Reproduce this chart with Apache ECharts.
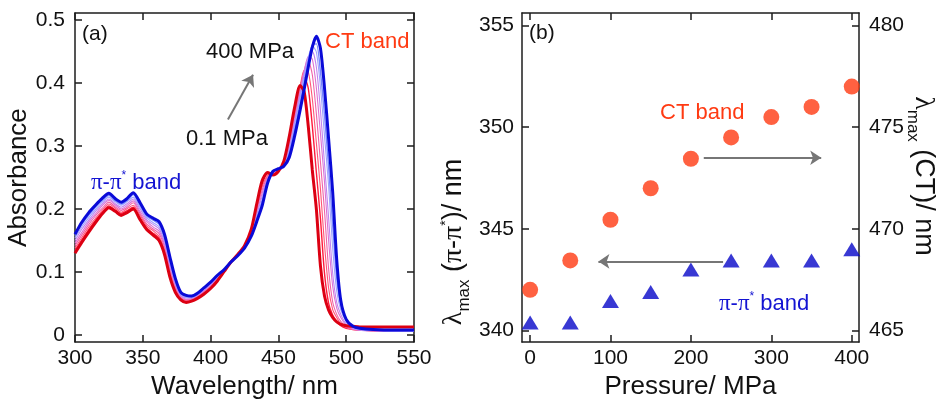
<!DOCTYPE html>
<html><head><meta charset="utf-8">
<script src="https://cdn.jsdelivr.net/npm/echarts@6/dist/echarts.min.js"></script>
<style>html,body{margin:0;padding:0;background:#fff}#c{width:936px;height:405px}</style>
</head><body><div id="c"></div>
<script>
// ---------- Panel (a): absorption spectra ----------
const wavelengths = [300,305,310,315,320,325,330,334,338,343,348,353,358,362,366,370,374,378,382,386,390,395,400,405,410,415,420,425,430,434,438,442,446,450,454,458,462,466,469,472,475,478,481,484,487,490,493,496,500,505,510,520,535,550];
const abs_0_1MPa = [0.130,0.147,0.163,0.178,0.192,0.202,0.196,0.190,0.194,0.200,0.183,0.167,0.158,0.150,0.128,0.092,0.068,0.056,0.052,0.054,0.058,0.065,0.074,0.086,0.101,0.116,0.128,0.142,0.168,0.208,0.245,0.258,0.254,0.260,0.276,0.315,0.362,0.396,0.386,0.332,0.262,0.200,0.110,0.062,0.040,0.028,0.021,0.017,0.015,0.014,0.013,0.013,0.013,0.013];
const abs_50MPa = [0.134,0.151,0.167,0.182,0.195,0.205,0.198,0.193,0.197,0.203,0.186,0.170,0.161,0.154,0.132,0.096,0.071,0.057,0.053,0.055,0.059,0.066,0.075,0.087,0.101,0.116,0.128,0.142,0.167,0.205,0.240,0.256,0.255,0.260,0.274,0.312,0.355,0.395,0.409,0.392,0.332,0.258,0.185,0.098,0.051,0.032,0.022,0.015,0.011,0.009,0.008,0.007,0.006,0.006];
const abs_100MPa = [0.138,0.155,0.171,0.185,0.198,0.208,0.201,0.195,0.200,0.206,0.190,0.173,0.165,0.157,0.136,0.100,0.073,0.059,0.055,0.056,0.060,0.068,0.077,0.088,0.102,0.116,0.128,0.141,0.165,0.201,0.235,0.253,0.256,0.261,0.270,0.308,0.351,0.394,0.420,0.418,0.375,0.305,0.232,0.144,0.075,0.041,0.028,0.018,0.012,0.009,0.008,0.007,0.006,0.006];
const abs_150MPa = [0.142,0.159,0.175,0.189,0.201,0.211,0.203,0.198,0.202,0.210,0.193,0.176,0.168,0.161,0.140,0.104,0.076,0.060,0.056,0.057,0.061,0.069,0.078,0.089,0.102,0.116,0.127,0.141,0.164,0.198,0.230,0.251,0.257,0.261,0.268,0.305,0.347,0.390,0.420,0.435,0.413,0.351,0.275,0.197,0.106,0.053,0.033,0.022,0.013,0.009,0.008,0.007,0.006,0.006];
const abs_200MPa = [0.146,0.163,0.179,0.192,0.205,0.214,0.206,0.200,0.205,0.213,0.196,0.180,0.171,0.165,0.144,0.108,0.079,0.062,0.057,0.058,0.062,0.070,0.079,0.091,0.102,0.116,0.127,0.140,0.163,0.194,0.225,0.249,0.258,0.262,0.267,0.300,0.343,0.385,0.418,0.442,0.438,0.392,0.320,0.243,0.151,0.078,0.043,0.028,0.016,0.010,0.008,0.007,0.006,0.006];
const abs_250MPa = [0.150,0.168,0.182,0.196,0.208,0.216,0.208,0.203,0.208,0.216,0.200,0.183,0.175,0.169,0.148,0.112,0.082,0.063,0.059,0.059,0.063,0.071,0.080,0.092,0.103,0.116,0.127,0.140,0.161,0.191,0.220,0.247,0.258,0.262,0.266,0.296,0.338,0.381,0.414,0.441,0.450,0.425,0.357,0.272,0.187,0.099,0.052,0.033,0.018,0.011,0.008,0.007,0.006,0.006];
const abs_300MPa = [0.154,0.172,0.186,0.199,0.211,0.219,0.211,0.206,0.211,0.219,0.203,0.186,0.178,0.172,0.152,0.116,0.084,0.065,0.060,0.060,0.064,0.073,0.082,0.093,0.103,0.116,0.127,0.139,0.160,0.187,0.215,0.245,0.259,0.263,0.266,0.292,0.333,0.376,0.409,0.440,0.459,0.449,0.394,0.316,0.238,0.139,0.070,0.040,0.022,0.012,0.009,0.008,0.007,0.007];
const abs_350MPa = [0.158,0.176,0.190,0.203,0.214,0.222,0.213,0.208,0.213,0.223,0.207,0.189,0.182,0.176,0.156,0.120,0.087,0.066,0.062,0.061,0.065,0.074,0.083,0.094,0.104,0.116,0.126,0.139,0.158,0.184,0.210,0.243,0.260,0.263,0.267,0.287,0.325,0.367,0.400,0.433,0.460,0.462,0.418,0.349,0.268,0.176,0.091,0.048,0.026,0.013,0.010,0.008,0.007,0.007];
const abs_400MPa = [0.160,0.179,0.194,0.206,0.217,0.225,0.216,0.211,0.216,0.226,0.210,0.192,0.185,0.180,0.160,0.124,0.090,0.068,0.063,0.062,0.066,0.075,0.084,0.095,0.104,0.116,0.126,0.138,0.157,0.180,0.205,0.241,0.260,0.264,0.268,0.282,0.316,0.357,0.390,0.425,0.457,0.474,0.455,0.392,0.312,0.228,0.120,0.055,0.025,0.014,0.011,0.009,0.008,0.008];
const absorbanceTicks = [0,0.1,0.2,0.3,0.4,0.5];

// ---------- Panel (b): band maxima vs pressure ----------
const pressures = [0.1,50,100,150,200,250,300,350,400];
const lambdaPiPi = [340.4,340.4,341.45,341.9,343.0,343.45,343.45,343.45,344.0];
const lambdaCT = [467.0,468.45,470.45,472.0,473.45,474.5,475.5,476.0,477.0];
const pressureTicks = [0,100,200,300,400];
const piTicks = [340,345,350,355];
const ctTicks = [465,470,475,480];

const FF = "'Liberation Sans', Arial, Helvetica, sans-serif";
const SERIF = "'Liberation Serif', 'Times New Roman', serif";
const AXC = '#1c1c1c';
const TXT = '#111';
const RED = '#ff3a12';
const BLUE = '#1414d2';
const GRAY = '#767676';

const axLine = {onZero:false, lineStyle:{color:AXC, width:1.5}};
function ticks(vals){ const t = {inside:true, length:7, lineStyle:{color:AXC, width:1.5}}; if (vals) t.customValues = vals; return t; }
function labels(margin, vals){ const l = {fontSize:21, color:TXT, fontFamily:FF, margin:margin}; if (vals) l.customValues = vals; return l; }
const nameStyle = {fontSize:26, color:TXT, fontFamily:FF};

const spectra = [
  {name:'50 MPa', d:abs_50MPa, c:'#ff1a3c', w:1.4},
  {name:'100 MPa', d:abs_100MPa, c:'#ff5577', w:1.1},
  {name:'150 MPa', d:abs_150MPa, c:'#f062a8', w:1.1},
  {name:'200 MPa', d:abs_200MPa, c:'#de72d2', w:1.1},
  {name:'250 MPa', d:abs_250MPa, c:'#c084f0', w:1.1},
  {name:'300 MPa', d:abs_300MPa, c:'#a0a2ff', w:1.1},
  {name:'350 MPa', d:abs_350MPa, c:'#7485ff', w:1.4},
  {name:'0.1 MPa', d:abs_0_1MPa, c:'#dc0012', w:3},
  {name:'400 MPa', d:abs_400MPa, c:'#0a0ad8', w:3}
];

const series = spectra.map(s => ({
  type:'line', name:s.name, xAxisIndex:0, yAxisIndex:0,
  showSymbol:false, smooth:0.25, silent:true,
  lineStyle:{color:s.c, width:s.w}, itemStyle:{color:s.c},
  data: wavelengths.map((w,i) => [w, s.d[i]])
}));
// pressure arrow in panel (a)
series[7].markLine = {
  silent:true, symbol:['none','arrow'], symbolSize:11, animation:false,
  lineStyle:{color:GRAY, width:2, type:'solid'}, label:{show:false},
  data:[[{coord:[412.8,0.342]},{coord:[431.3,0.413]}]]
};

series.push({
  type:'scatter', name:'π-π* band', xAxisIndex:2, yAxisIndex:2,
  symbol:'triangle', symbolSize:[17,14], itemStyle:{color:'#0606c8'},
  data: pressures.map((p,i) => [p, lambdaPiPi[i]]),
  markLine:{silent:true, symbol:['none','arrow'], symbolSize:11, animation:false,
    lineStyle:{color:GRAY, width:2, type:'solid'}, label:{show:false},
    data:[[{coord:[240,343.4]},{coord:[85,343.4]}]]}
});
series.push({
  type:'scatter', name:'CT band', xAxisIndex:2, yAxisIndex:3,
  symbol:'circle', symbolSize:16, itemStyle:{color:RED},
  data: pressures.map((p,i) => [p, lambdaCT[i]]),
  markLine:{silent:true, symbol:['none','arrow'], symbolSize:11, animation:false,
    lineStyle:{color:GRAY, width:2, type:'solid'}, label:{show:false},
    data:[[{coord:[216,473.5]},{coord:[362,473.5]}]]}
});

const supRich = (col, size) => ({
  p:{fontFamily:SERIF, fontSize:size+1, fill:col, padding:[0,0,0,0]},
  u:{fontFamily:FF, fontSize:12, fill:col, padding:[0,0,14,0]},
  n:{fontFamily:FF, fontSize:size, fill:col}
});
const titleRich = {
  l:{fontFamily:SERIF, fontSize:28, fill:TXT},
  s:{fontFamily:FF, fontSize:17, fill:TXT, padding:[20,0,0,0]},
  n:{fontFamily:FF, fontSize:27, fill:TXT},
  p:{fontFamily:SERIF, fontSize:28, fill:TXT},
  u:{fontFamily:FF, fontSize:14, fill:TXT, padding:[0,0,16,0]}
};

const option = {
  animation:false,
  backgroundColor:'#fff',
  textStyle:{fontFamily:FF},
  grid:[
    {left:75, top:13, width:339, height:339},
    {left:522, top:13, width:337, height:340}
  ],
  xAxis:[
    {type:'value', gridIndex:0, position:'bottom', min:300, max:550, interval:50,
     axisLine:axLine, axisTick:ticks(), axisLabel:labels(6), splitLine:{show:false},
     name:'Wavelength/ nm', nameLocation:'middle', nameGap:19, nameTextStyle:nameStyle},
    {type:'value', gridIndex:0, position:'top', min:300, max:550, interval:50,
     axisLine:axLine, axisTick:ticks(), axisLabel:{show:false}, splitLine:{show:false}},
    {type:'value', gridIndex:1, position:'bottom', min:-10, max:409,
     axisLine:axLine, axisTick:ticks(pressureTicks), axisLabel:labels(6, pressureTicks), splitLine:{show:false},
     name:'Pressure/ MPa', nameLocation:'middle', nameGap:23, nameTextStyle:nameStyle},
    {type:'value', gridIndex:1, position:'top', min:-10, max:409,
     axisLine:axLine, axisTick:ticks(pressureTicks), axisLabel:{show:false}, splitLine:{show:false}}
  ],
  yAxis:[
    {type:'value', gridIndex:0, position:'left', min:-0.011, max:0.511,
     axisLine:axLine, axisTick:ticks(absorbanceTicks), axisLabel:labels(10, absorbanceTicks), splitLine:{show:false},
     name:'Absorbance', nameLocation:'middle', nameGap:38, nameRotate:90, nameTextStyle:nameStyle},
    {type:'value', gridIndex:0, position:'right', min:-0.011, max:0.511,
     axisLine:axLine, axisTick:ticks(absorbanceTicks), axisLabel:{show:false}, splitLine:{show:false}},
    {type:'value', gridIndex:1, position:'left', min:339.43, max:355.62,
     axisLine:axLine, axisTick:ticks(piTicks), axisLabel:labels(8, piTicks), splitLine:{show:false}},
    {type:'value', gridIndex:1, position:'right', min:464.43, max:480.62,
     axisLine:axLine, axisTick:ticks(ctTicks), axisLabel:labels(10, ctTicks), splitLine:{show:false}}
  ],
  series:series,
  graphic:[
    {type:'text', x:82, y:34, silent:true, style:{text:'(a)', fontSize:21, fontFamily:FF, fill:TXT, verticalAlign:'middle'}},
    {type:'text', x:206, y:52, silent:true, style:{text:'400 MPa', fontSize:22, fontFamily:FF, fill:TXT, verticalAlign:'middle'}},
    {type:'text', x:186, y:139, silent:true, style:{text:'0.1 MPa', fontSize:22, fontFamily:FF, fill:TXT, verticalAlign:'middle'}},
    {type:'text', x:325, y:42, silent:true, style:{text:'CT band', fontSize:22, fontFamily:FF, fill:RED, verticalAlign:'middle'}},
    {type:'text', x:91, y:183, silent:true, style:{text:'{p|π}{n|-}{p|π}{u|*}{n| band}', fontSize:22, fontFamily:FF, fill:BLUE, verticalAlign:'middle', rich:supRich(BLUE,22)}},
    {type:'text', x:529, y:33, silent:true, style:{text:'(b)', fontSize:21, fontFamily:FF, fill:TXT, verticalAlign:'middle'}},
    {type:'text', x:660, y:113, silent:true, style:{text:'CT band', fontSize:22, fontFamily:FF, fill:RED, verticalAlign:'middle'}},
    {type:'text', x:719, y:304, silent:true, style:{text:'{p|π}{n|-}{p|π}{u|*}{n| band}', fontSize:22, fontFamily:FF, fill:BLUE, verticalAlign:'middle', rich:supRich(BLUE,22)}},
    {type:'text', x:454, y:242, rotation:Math.PI/2, silent:true,
     style:{text:'{l|λ}{s|max}{n| (}{p|π}{n|-}{p|π}{u|*}{n|)/ nm}', align:'center', verticalAlign:'middle', fill:TXT, rich:titleRich}},
    {type:'text', x:923, y:176, rotation:-Math.PI/2, silent:true,
     style:{text:'{l|λ}{s|max}{n| (CT)/ nm}', align:'center', verticalAlign:'middle', fill:TXT, rich:titleRich}}
  ]
};

const chart = echarts.init(document.getElementById('c'), null, {renderer:'canvas'});
chart.setOption(option);
</script>
</body></html>
